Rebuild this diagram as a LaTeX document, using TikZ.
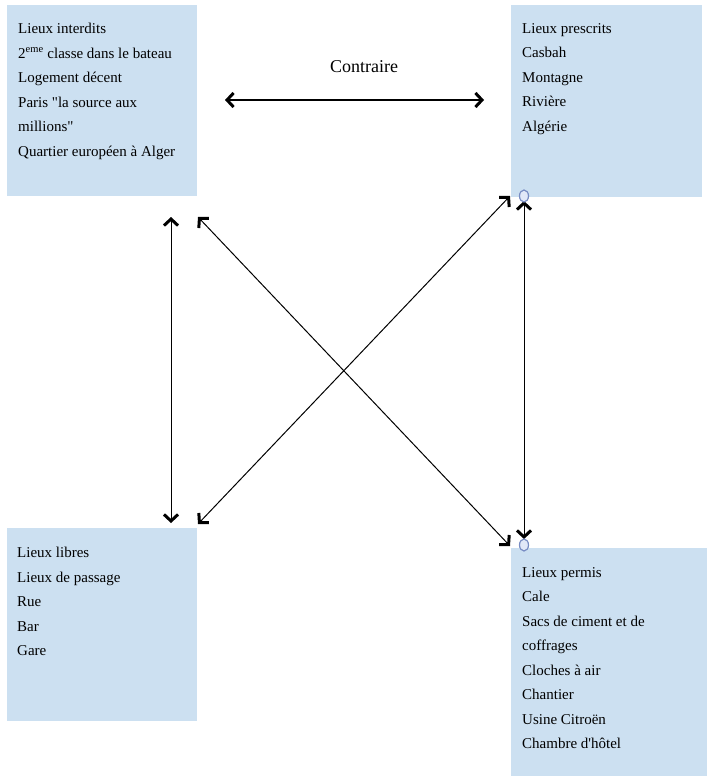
\documentclass[tikz,border=0pt]{standalone}
\usepackage{fontspec}
\setmainfont{Liberation Serif}
\newfontfamily\plainser{Liberation Serif}
\usetikzlibrary{arrows.meta,shapes.geometric}
\definecolor{boxblue}{RGB}{204,224,241}
\definecolor{knobedge}{RGB}{120,140,195}
\definecolor{knobfill}{RGB}{225,232,248}
\begin{document}
\begin{tikzpicture}[x=1pt,y=-1pt,
  box/.style={fill=boxblue, draw=none, anchor=north west, inner sep=0pt},
  txt/.style={anchor=north west, inner sep=0pt, align=left, font=\plainser\fontsize{15}{24.5}\selectfont},
  barb/.tip={Straight Barb[length=6.5pt,width=14pt,line width=3pt]},
  link/.style={barb-barb, line width=1pt, black},
  knob/.style={ellipse, draw=knobedge, fill=knobfill, line width=1.2pt, minimum width=9pt, minimum height=12pt, inner sep=0pt}]
\useasboundingbox (0,0) rectangle (707,776);
% boxes
\node[box, minimum width=190pt, minimum height=191pt] (tl) at (7,5) {};
\node[box, minimum width=191pt, minimum height=192pt] (tr) at (511,5) {};
\node[box, minimum width=190pt, minimum height=193pt] (bl) at (7,528) {};
\node[box, minimum width=196pt, minimum height=228pt] (br) at (511,548) {};
% texts
\node[txt] (tltext) at (18,23) {Lieux interdits\\2\textsuperscript{eme} classe dans le bateau\\Logement décent\\Paris "la source aux\\millions"\\Quartier européen à Alger};
\node[txt] (trtext) at (522,23) {Lieux prescrits\\Casbah\\Montagne\\Rivière\\Algérie};
\node[txt] (bltext) at (17,547) {Lieux libres\\Lieux de passage\\Rue\\Bar\\Gare};
\node[txt] (brtext) at (522,567) {Lieux permis\\Cale\\Sacs de ciment et de\\coffrages\\Cloches à air\\Chantier\\Usine Citroën\\Chambre d'hôtel};
\node[font=\plainser\fontsize{18}{20}\selectfont, anchor=base] (contraire) at (364,73) {Contraire};
% arrow end points
\coordinate (h1) at (225,100);
\coordinate (h2) at (484,100);
\coordinate (lv1) at (171,217);
\coordinate (lv2) at (171,523);
\coordinate (d1a) at (198,217);
\coordinate (d1b) at (510,546);
\coordinate (d2a) at (198,524);
\coordinate (d2b) at (510,196);
\coordinate (rv1) at (524,201);
\coordinate (rv2) at (524,539);
% arrows
\draw[link, line width=1.6pt] (h1) -- (h2);
\draw[link] (lv1) -- (lv2);
\draw[link] (d1a) -- (d1b);
\draw[link] (d2a) -- (d2b);
\draw[link] (rv1) -- (rv2);
% handles
\node[knob] (k1) at (524,196) {};
\node[knob] (k2) at (524,545) {};
\end{tikzpicture}
\end{document}
